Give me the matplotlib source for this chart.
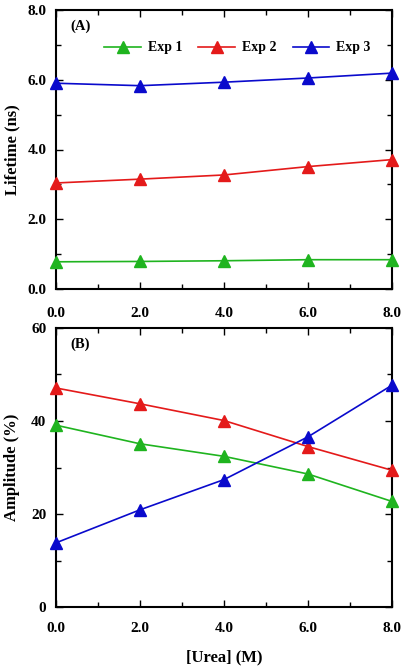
import matplotlib
matplotlib.use("Agg")
import matplotlib.pyplot as plt
from matplotlib.ticker import MultipleLocator

plt.rcParams['font.family'] = ['Liberation Serif', 'DejaVu Serif']
plt.rcParams['font.weight'] = 'bold'

urea = [0.0, 2.0, 4.0, 6.0, 8.0]
series_names = ["Exp 1", "Exp 2", "Exp 3"]
colors = ["#1fb41f", "#e41a1a", "#0a0acc"]

lifetime_exp1 = [0.78, 0.79, 0.81, 0.84, 0.84]
lifetime_exp2 = [3.04, 3.15, 3.27, 3.51, 3.71]
lifetime_exp3 = [5.90, 5.83, 5.93, 6.05, 6.19]

amp_exp1 = [39.1, 35.1, 32.4, 28.6, 22.7]
amp_exp2 = [47.1, 43.7, 40.1, 34.5, 29.4]
amp_exp3 = [13.8, 20.9, 27.4, 36.6, 47.7]

W, H = 406, 670
fig = plt.figure(figsize=(W/100, H/100), dpi=100)
axA = fig.add_axes([56/W, 1-289/H, (392-56)/W, (289-10)/H])
axB = fig.add_axes([56/W, 1-607/H, (392-56)/W, (607-328)/H])

def style(ax, ymaj, ymin, xpad):
    ax.set_xlim(0, 8)
    ax.xaxis.set_major_locator(MultipleLocator(2))
    ax.xaxis.set_minor_locator(MultipleLocator(1))
    ax.yaxis.set_major_locator(MultipleLocator(ymaj))
    ax.yaxis.set_minor_locator(MultipleLocator(ymin))
    ax.tick_params(which='both', direction='in', top=True, right=True, labelsize=11, width=1.0)
    ax.tick_params(which='major', length=5)
    ax.tick_params(which='minor', length=3.5)
    ax.tick_params(axis='x', pad=xpad)
    ax.tick_params(axis='y', pad=7)
    for s in ax.spines.values():
        s.set_linewidth(1.5)
    for lab in ax.get_xticklabels() + ax.get_yticklabels():
        lab.set_fontweight('bold')

for ys, c, n in zip([lifetime_exp1, lifetime_exp2, lifetime_exp3], colors, series_names):
    axA.plot(urea, ys, color=c, marker='^', markersize=8.5, lw=1.2, label=n, clip_on=False, zorder=3)
axA.set_ylim(0, 8)
style(axA, 2, 1, 13)
axA.yaxis.set_major_formatter(lambda v, p: f"{v:.1f}")
axA.xaxis.set_major_formatter(lambda v, p: f"{v:.1f}")
axA.set_ylabel("Lifetime (ns)", fontsize=12, fontweight='bold')
axA.yaxis.set_label_coords(-0.107, 0.5)
axA.text(0.042, 0.94, "(A)", transform=axA.transAxes, fontsize=10.5, fontweight='bold', va='center')
axA.legend(loc='center', bbox_to_anchor=(0.54, 0.864), ncol=3, frameon=False,
           handlelength=2.65, columnspacing=1.15, handletextpad=0.5,
           prop={'weight': 'bold', 'size': 10})

for ys, c, n in zip([amp_exp1, amp_exp2, amp_exp3], colors, series_names):
    axB.plot(urea, ys, color=c, marker='^', markersize=8.5, lw=1.2, label=n, clip_on=False, zorder=3)
axB.set_ylim(0, 60)
style(axB, 20, 10, 11)
axB.xaxis.set_major_formatter(lambda v, p: f"{v:.1f}")
axB.yaxis.set_major_formatter(lambda v, p: f"{v:.0f}")
axB.set_ylabel("Amplitude (%)", fontsize=12, fontweight='bold')
axB.yaxis.set_label_coords(-0.107, 0.5)
axB.set_xlabel("[Urea] (M)", fontsize=12, fontweight='bold', labelpad=10)
axB.text(0.042, 0.94, "(B)", transform=axB.transAxes, fontsize=10.5, fontweight='bold', va='center')

fig.savefig("out.png", dpi=100)
